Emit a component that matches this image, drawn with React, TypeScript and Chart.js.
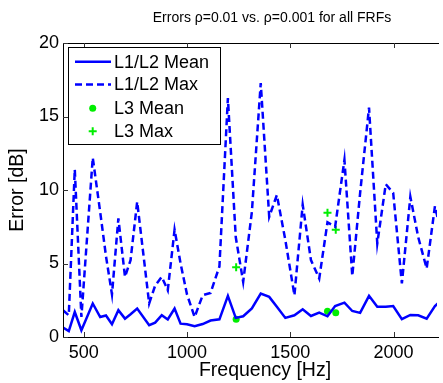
import { useEffect, useRef } from 'react';
import { Chart, registerables } from 'chart.js';

Chart.register(...registerables);

const TITLE = 'Errors ρ=0.01 vs. ρ=0.001 for all FRFs';
const X_LABEL = 'Frequency [Hz]';
const Y_LABEL = 'Error [dB]';

const freqs = [400, 428, 457, 489, 544, 580, 608, 637, 668, 700, 727, 759, 817, 846, 878, 907, 940, 969, 1000, 1037, 1076, 1114, 1157, 1198, 1236, 1272, 1314, 1357, 1398, 1435, 1476, 1520, 1560, 1600, 1640, 1680, 1717, 1762, 1800, 1838, 1881, 1921, 1962, 1998, 2040, 2081, 2119, 2160, 2200, 2240];

const meanErr = [0.64, 0.40, 1.70, 0.46, 2.28, 1.36, 1.46, 0.87, 1.82, 1.25, 1.55, 1.94, 0.80, 0.98, 1.48, 1.19, 1.94, 0.91, 0.87, 0.73, 0.88, 1.12, 1.20, 2.80, 1.30, 1.41, 1.94, 2.96, 2.73, 2.05, 1.30, 1.48, 1.89, 1.43, 1.66, 1.41, 2.11, 2.34, 1.77, 1.64, 2.80, 2.05, 2.05, 2.11, 1.21, 1.50, 1.48, 1.25, 2.10, 2.6];

const maxErr = [1.82, 1.48, 11.4, 1.36, 12.2, 8.5, 5.5, 2.9, 8.07, 4.09, 5.23, 9.2, 2.28, 3.5, 4.09, 3.18, 7.3, 5.0, 2.9, 1.36, 2.84, 3.0, 4.8, 16.25, 6.8, 3.75, 8.5, 17.27, 8.18, 9.66, 6.6, 2.84, 9.0, 5.23, 3.98, 7.8, 7.5, 12.05, 4.15, 9.8, 15.6, 6.36, 10.4, 9.8, 3.64, 9.54, 6.8, 4.66, 8.9, 6.5];

const l3Freqs = [1238, 1680, 1720];
const l3Mean = [1.2, 1.75, 1.65];
const l3Max = [4.75, 8.45, 7.3];

const xTicks = [500, 1000, 1500, 2000];
const yTicks = [0, 5, 10, 15, 20];

const legendLabels = ['L1/L2 Mean', 'L1/L2 Max', 'L3 Mean', 'L3 Max'];

const BLUE = '#0000ff';
const GREEN = '#00ee00';
const FONT = '"Liberation Sans", Arial, Helvetica, sans-serif';

const framePlugin = {
  id: 'matlabFrame',
  afterDatasetsDraw(chart: any) {
    const { ctx, chartArea: a, scales } = chart;
    ctx.save();
    // axes box
    ctx.strokeStyle = '#000';
    ctx.lineWidth = 1;
    ctx.beginPath();
    ctx.moveTo(a.right + 2, Math.round(a.top) + 0.5);
    ctx.lineTo(Math.round(a.left) + 0.5, Math.round(a.top) + 0.5);
    ctx.lineTo(Math.round(a.left) + 0.5, Math.round(a.bottom) + 0.5);
    ctx.lineTo(a.right + 2, Math.round(a.bottom) + 0.5);
    ctx.stroke();
    // tick marks
    ctx.strokeStyle = '#333';
    ctx.beginPath();
    xTicks.forEach((t) => {
      const px = Math.round(scales.x.getPixelForValue(t)) + 0.5;
      ctx.moveTo(px, a.bottom);
      ctx.lineTo(px, a.bottom - 5);
      ctx.moveTo(px, a.top);
      ctx.lineTo(px, a.top + 5);
    });
    yTicks.forEach((t) => {
      const py = Math.round(scales.y.getPixelForValue(t)) + 0.5;
      ctx.moveTo(a.left, py);
      ctx.lineTo(a.left + 5, py);
    });
    ctx.stroke();

    // legend
    const lx = 68.5, ly = 47.5, lw = 152, lh = 97;
    ctx.fillStyle = '#fff';
    ctx.fillRect(lx, ly, lw, lh);
    ctx.strokeStyle = '#000';
    ctx.lineWidth = 1;
    ctx.strokeRect(lx, ly, lw, lh);
    const rows = [61.7, 84.5, 108.3, 131.3];
    const ds = chart.data.datasets;
    rows.forEach((ry, i) => {
      const d = ds[i];
      if (i < 2) {
        ctx.save();
        ctx.strokeStyle = d.borderColor;
        ctx.lineWidth = d.borderWidth;
        ctx.setLineDash(d.borderDash || []);
        ctx.beginPath();
        ctx.moveTo(75, ry);
        ctx.lineTo(111, ry);
        ctx.stroke();
        ctx.restore();
      } else if (i === 2) {
        ctx.fillStyle = d.backgroundColor;
        ctx.beginPath();
        ctx.arc(92.7, ry, d.pointRadius, 0, Math.PI * 2);
        ctx.fill();
      } else {
        ctx.strokeStyle = d.borderColor;
        ctx.lineWidth = d.borderWidth;
        ctx.beginPath();
        ctx.moveTo(92.7 - d.pointRadius, ry);
        ctx.lineTo(92.7 + d.pointRadius, ry);
        ctx.moveTo(92.7, ry - d.pointRadius);
        ctx.lineTo(92.7, ry + d.pointRadius);
        ctx.stroke();
      }
      ctx.fillStyle = '#000';
      ctx.font = `18px ${FONT}`;
      ctx.textAlign = 'left';
      ctx.textBaseline = 'middle';
      ctx.fillText(legendLabels[i], 114, ry + 1);
    });

    // title & axis labels
    ctx.fillStyle = '#000';
    ctx.textAlign = 'center';
    ctx.textBaseline = 'middle';
    ctx.font = `14px ${FONT}`;
    ctx.fillText(TITLE, 272, 18);
    ctx.font = `19.5px ${FONT}`;
    ctx.fillText(X_LABEL, 265, 371);
    ctx.save();
    ctx.translate(18, 190);
    ctx.rotate(-Math.PI / 2);
    ctx.fillText(Y_LABEL, 0, 0);
    ctx.restore();
    ctx.restore();
  },
};

export default function App() {
  const ref = useRef<HTMLCanvasElement>(null);
  useEffect(() => {
    const chart = new Chart(ref.current as HTMLCanvasElement, {
      type: 'line',
      data: {
        datasets: [
          {
            label: legendLabels[0],
            data: freqs.map((f, i) => ({ x: f, y: meanErr[i] })),
            borderColor: BLUE,
            backgroundColor: BLUE,
            borderWidth: 2.5,
            pointRadius: 0,
            tension: 0,
            fill: false,
          },
          {
            label: legendLabels[1],
            data: freqs.map((f, i) => ({ x: f, y: maxErr[i] })),
            borderColor: BLUE,
            backgroundColor: BLUE,
            borderWidth: 2.5,
            borderDash: [7, 4],
            pointRadius: 0,
            tension: 0,
            fill: false,
          },
          {
            label: legendLabels[2],
            data: l3Freqs.map((f, i) => ({ x: f, y: l3Mean[i] })),
            showLine: false,
            pointStyle: 'circle',
            pointRadius: 3.5,
            borderWidth: 0,
            borderColor: GREEN,
            backgroundColor: GREEN,
          },
          {
            label: legendLabels[3],
            data: l3Freqs.map((f, i) => ({ x: f, y: l3Max[i] })),
            showLine: false,
            pointStyle: 'cross',
            pointRadius: 4,
            borderWidth: 2,
            borderColor: GREEN,
            backgroundColor: GREEN,
          },
        ] as any,
      },
      options: {
        responsive: false,
        animation: false,
        events: [],
        layout: { padding: { top: 43, right: 0, left: 0, bottom: 0 } },
        plugins: { legend: { display: false }, title: { display: false }, tooltip: { enabled: false } },
        scales: {
          x: {
            type: 'linear',
            min: 400,
            max: 2210,
            grid: { display: false, drawTicks: false },
            border: { display: false },
            afterBuildTicks: (s: any) => {
              s.ticks = xTicks.map((v) => ({ value: v }));
            },
            afterFit: (s: any) => {
              s.height = 46;
            },
            ticks: {
              color: '#000',
              padding: 5,
              maxRotation: 0,
              font: { family: FONT, size: 18 },
              callback: (v: any) => String(v),
            },
          },
          y: {
            type: 'linear',
            min: 0,
            max: 20,
            grid: { display: false, drawTicks: false },
            border: { display: false },
            afterBuildTicks: (s: any) => {
              s.ticks = yTicks.map((v) => ({ value: v }));
            },
            afterFit: (s: any) => {
              s.width = 63;
            },
            ticks: {
              color: '#000',
              padding: 4,
              font: { family: FONT, size: 18 },
              callback: (v: any) => String(v),
            },
          },
        },
      } as any,
      plugins: [framePlugin],
    });
    return () => chart.destroy();
  }, []);
  return (
    <div style={{ position: 'fixed', left: 0, top: 0, width: 443, height: 383, background: '#fff', overflow: 'hidden' }}>
      <canvas ref={ref} width={443} height={383} style={{ display: 'block', width: 443, height: 383 }} />
    </div>
  );
}
